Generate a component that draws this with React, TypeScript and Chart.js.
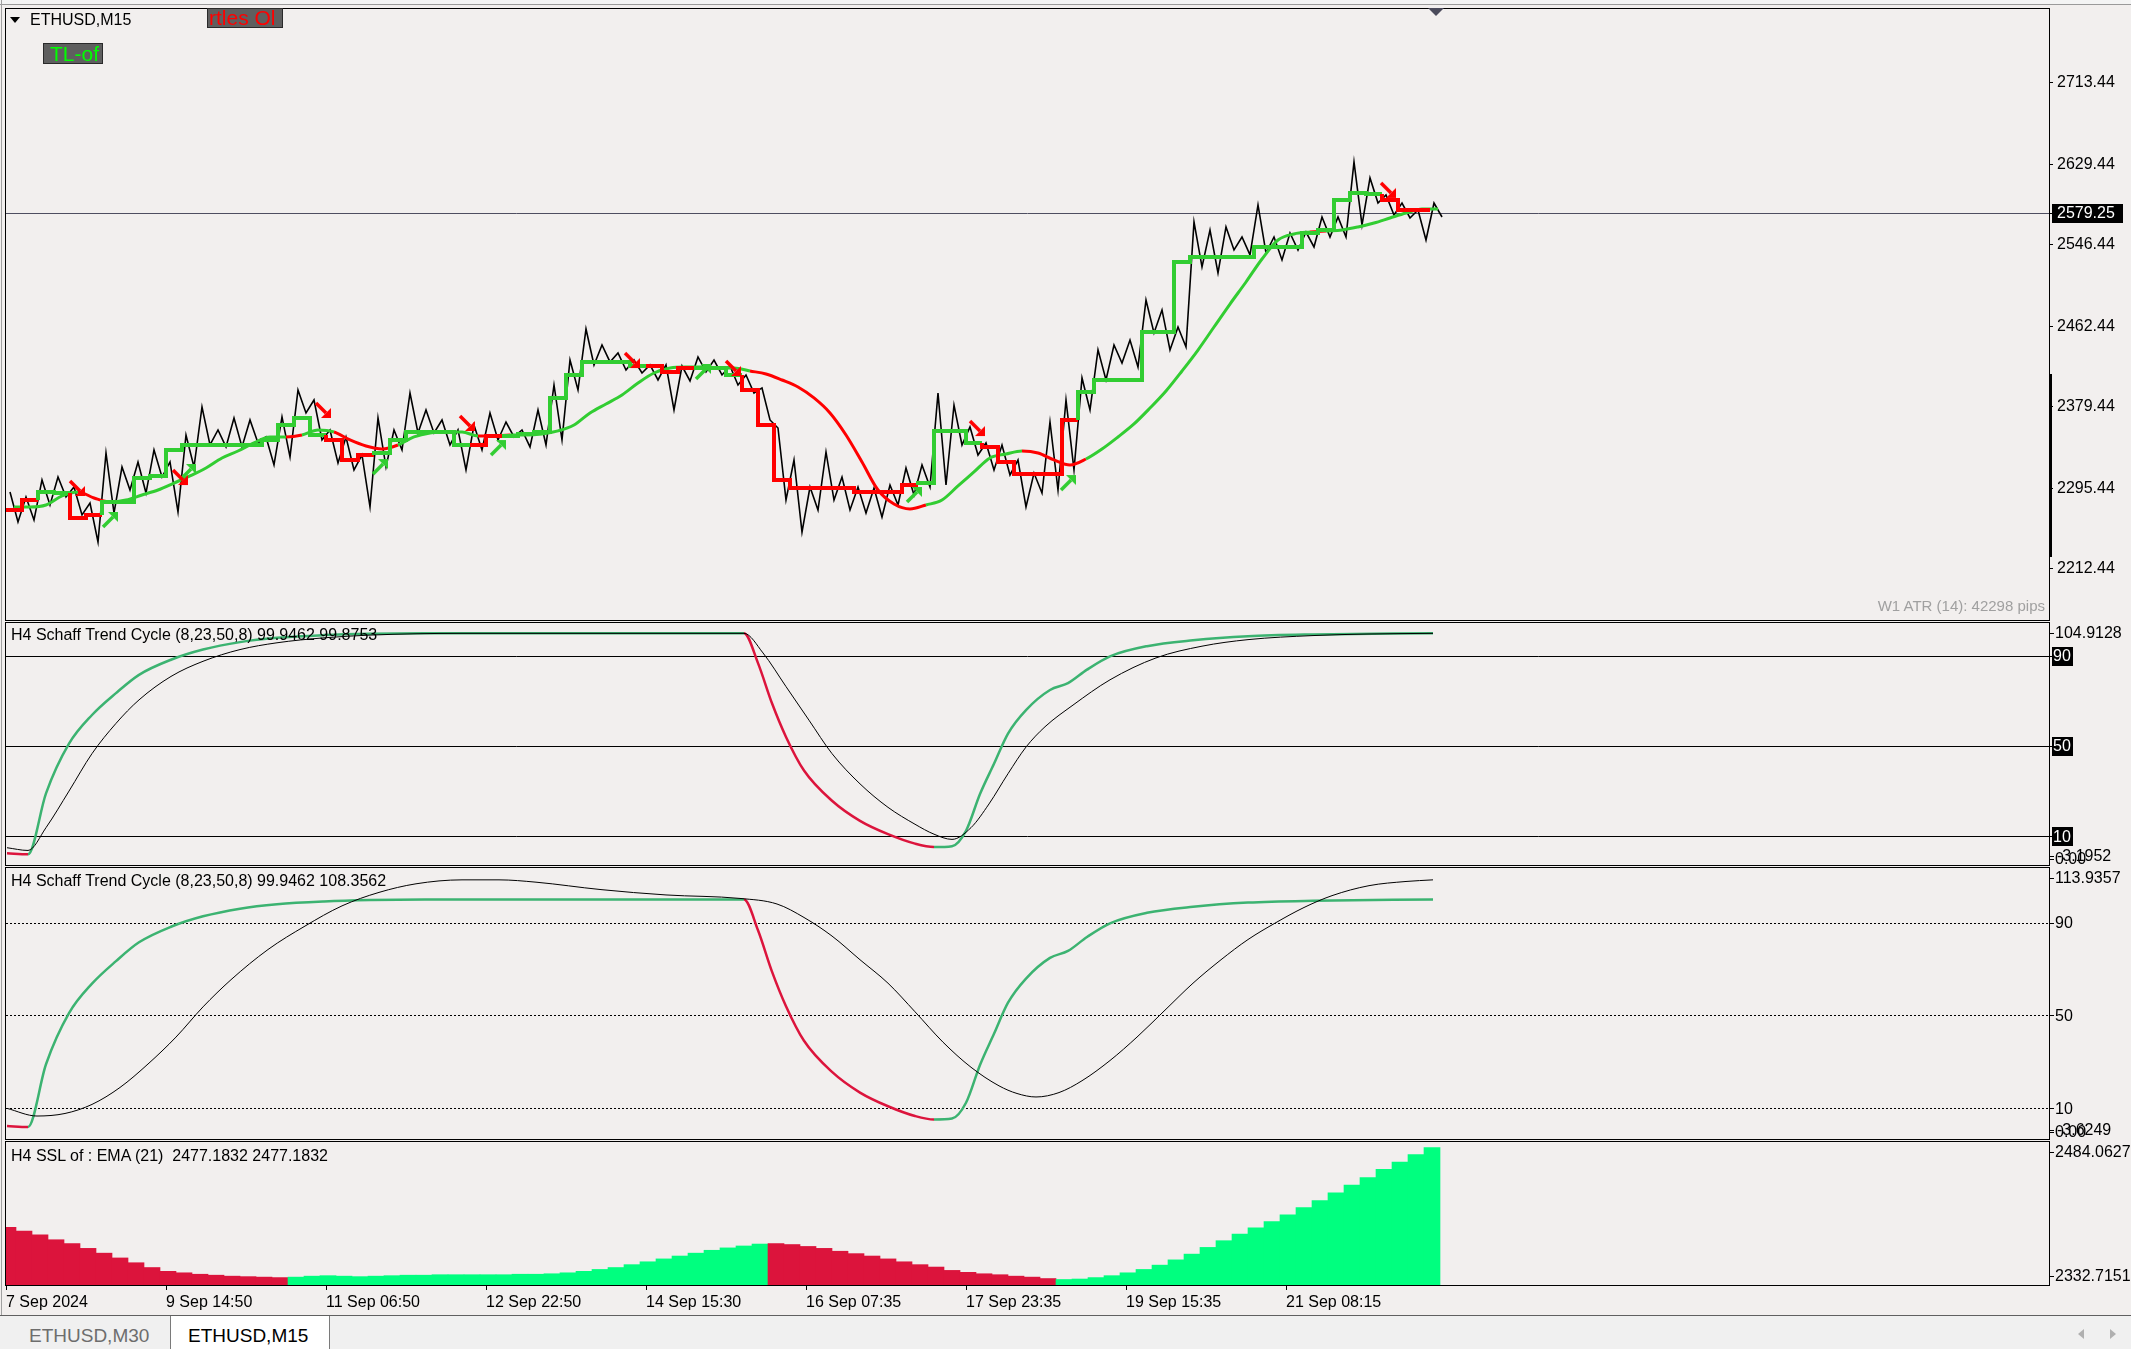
import React, { useEffect, useRef } from "react";
import { Chart, registerables } from "chart.js";

Chart.register(...registerables);

// ---------------- data ----------------
const BARS_PER_H4 = 16;
const PLOT_BARS = 2043;

const timeTickBars = [0, 160, 320, 480, 640, 800, 960, 1120, 1280];
const timeTickLabels = ["7 Sep 2024", "9 Sep 14:50", "11 Sep 06:50", "12 Sep 22:50", "14 Sep 15:30", "16 Sep 07:35", "17 Sep 23:35", "19 Sep 15:35", "21 Sep 08:15"];

const priceTicks = [2212.44, 2295.44, 2379.44, 2462.44, 2546.44, 2629.44, 2713.44];
const lastPrice = 2579.25;

// per H4 block: high / low of the M15 bars
const priceHigh = [
  2291.6, 2286.4, 2304.0, 2307.0, 2296.7, 2280.2, 2331.8, 2317.3, 2322.5, 2334.9,
  2322.5, 2350.3, 2379.2, 2355.5, 2367.9, 2365.8, 2348.3, 2368.9, 2396.7, 2386.4,
  2355.5, 2348.3, 2329.7, 2367.9, 2355.5, 2393.6, 2376.1, 2365.8, 2355.5, 2360.6,
  2373.0, 2363.7, 2355.5, 2376.1, 2401.9, 2427.6, 2459.6, 2443.1, 2434.8, 2427.6,
  2422.5, 2422.5, 2421.4, 2430.7, 2427.6, 2421.4, 2412.2, 2398.8, 2357.5, 2324.5,
  2296.7, 2332.8, 2307.0, 2296.7, 2295.7, 2298.8, 2316.3, 2319.4, 2393.6, 2381.2,
  2358.6, 2342.1, 2340.0, 2324.5, 2311.1, 2363.7, 2386.4, 2409.1, 2438.0, 2443.1,
  2448.2, 2489.5, 2479.2, 2461.6, 2569.9, 2561.6, 2564.7, 2554.4, 2587.4, 2554.4,
  2558.5, 2559.5, 2575.0, 2575.0, 2631.7, 2615.2, 2597.7, 2589.4, 2582.2, 2589.4,
];
const priceLow = [
  2260.7, 2262.7, 2278.2, 2286.4, 2267.9, 2240.0, 2269.9, 2293.6, 2290.5, 2307.0,
  2271.0, 2317.3, 2340.0, 2338.0, 2338.0, 2342.1, 2319.4, 2327.7, 2373.0, 2345.2,
  2321.5, 2314.3, 2276.1, 2317.3, 2334.9, 2352.4, 2352.4, 2340.0, 2314.3, 2334.9,
  2345.2, 2348.3, 2338.0, 2340.0, 2345.2, 2396.7, 2422.5, 2425.6, 2417.3, 2414.2,
  2407.0, 2376.1, 2406.0, 2415.3, 2412.2, 2401.9, 2393.6, 2365.8, 2283.3, 2250.3,
  2273.0, 2283.3, 2273.0, 2269.9, 2265.8, 2278.2, 2288.5, 2296.7, 2298.8, 2340.0,
  2329.7, 2314.3, 2309.1, 2276.1, 2290.5, 2293.6, 2314.3, 2376.1, 2407.0, 2424.5,
  2420.4, 2455.5, 2438.0, 2441.0, 2523.5, 2517.3, 2541.0, 2535.9, 2537.9, 2530.7,
  2541.0, 2544.1, 2554.4, 2554.4, 2566.8, 2589.4, 2577.1, 2574.0, 2551.3, 2575.0,
];

// stepped trailing line (per H4)
const stepTrail = [
  2273.0, 2273.0, 2283.3, 2291.6, 2290.5, 2264.8, 2267.9, 2281.3, 2281.3, 2306.0,
  2308.1, 2334.9, 2340.0, 2340.0, 2340.0, 2340.0, 2340.0, 2345.2, 2360.6, 2367.9,
  2350.3, 2345.2, 2324.6, 2329.7, 2331.8, 2345.2, 2353.4, 2353.4, 2353.4, 2340.0,
  2340.0, 2349.3, 2349.3, 2351.4, 2353.4, 2388.5, 2412.2, 2425.6, 2425.6, 2425.6,
  2421.4, 2421.4, 2415.3, 2419.4, 2419.4, 2419.4, 2412.2, 2396.7, 2360.6, 2303.9,
  2295.7, 2295.7, 2295.7, 2295.7, 2291.6, 2291.6, 2291.6, 2298.8, 2300.9, 2354.5,
  2354.5, 2342.1, 2338.0, 2322.5, 2310.1, 2310.1, 2310.1, 2365.8, 2394.7, 2407.0,
  2407.0, 2407.0, 2456.5, 2456.5, 2528.6, 2533.8, 2533.8, 2533.8, 2533.8, 2544.1,
  2544.1, 2544.1, 2558.5, 2561.6, 2592.5, 2599.8, 2598.7, 2592.5, 2582.2, 2582.2,
];
const stepTrailTrend = "rrggrrgggg gggggggggg rrrggggggr rggggggggg rrrgggrrrr rrrrrrrggg grrrrrrggg gggggggggg ggggggrrrr";

// smooth trailing line (per H4)
const smoothTrail = [
  2276.1, 2276.1, 2278.2, 2287.5, 2291.6, 2285.4, 2281.3, 2283.3, 2288.5, 2293.6,
  2300.8, 2308.1, 2316.3, 2326.6, 2333.8, 2342.1, 2348.3, 2348.3, 2350.3, 2355.5,
  2353.4, 2345.2, 2339.0, 2335.9, 2340.0, 2348.3, 2352.4, 2353.4, 2353.4, 2349.3,
  2349.3, 2350.3, 2350.3, 2351.4, 2354.5, 2360.6, 2373.0, 2382.3, 2391.6, 2403.9,
  2414.2, 2419.4, 2420.4, 2420.4, 2419.4, 2419.4, 2416.3, 2413.2, 2407.0, 2399.8,
  2388.5, 2373.0, 2350.3, 2322.5, 2293.6, 2279.2, 2274.1, 2278.2, 2283.3, 2297.8,
  2312.2, 2326.6, 2330.7, 2333.8, 2331.8, 2324.6, 2319.4, 2325.6, 2335.9, 2348.3,
  2361.7, 2378.1, 2395.7, 2416.3, 2437.9, 2461.6, 2485.3, 2508.0, 2531.7, 2551.3,
  2557.5, 2559.5, 2560.6, 2561.6, 2564.7, 2568.8, 2574.0, 2579.1, 2583.3, 2583.3,
];
const smoothTrailTrend = "ggggrrgggg gggggggrgg rrrrgggggr rggggggggg ggggggrrrr rrrrrrrggg gggrrrrggg gggggggggg grgggggggg";

const sellArrowBars = [71, 174, 317, 461, 626, 727, 971, 1382];
const sellArrowPrices = [2295.7, 2307.0, 2376.1, 2362.7, 2427.6, 2419.4, 2357.5, 2602.9];
const buyArrowBars = [104, 182, 374, 492, 697, 908, 1062];
const buyArrowPrices = [2262.7, 2312.2, 2317.3, 2336.9, 2415.3, 2288.5, 2300.8];

// Schaff Trend Cycle (shared by both sub-windows)
const stcBars = [1, 22, 40, 63, 86, 110, 133, 165, 197, 234, 271, 318, 364, 419, 738, 752, 766, 780, 798, 826, 854, 882, 909, 928, 946, 960, 974, 988, 1002, 1020, 1044, 1062, 1081, 1104, 1141, 1187, 1242, 1307, 1427];
const stcValues = [2.4, 2.0, 29, 51, 63.7, 73.4, 81.5, 88.2, 92.7, 96, 97.9, 99.1, 99.7, 99.95, 99.95, 86.7, 68.9, 54, 39.1, 25.7, 16.8, 10.9, 6.7, 5.2, 5.6, 12.4, 28.7, 42.1, 55.5, 65.9, 74.8, 77.8, 83.8, 89.7, 94.2, 96.8, 98.6, 99.4, 99.95];
const stcTrend = "rr ggggggggggggg rrrrrrrrr ggggggggggggggg";

const stcSignalBars = [1, 22, 40, 63, 86, 110, 133, 165, 197, 234, 271, 318, 364, 410, 456, 738, 757, 780, 803, 826, 854, 882, 909, 928, 946, 965, 983, 1002, 1020, 1039, 1067, 1104, 1150, 1196, 1242, 1307, 1363, 1427];
const stcSignalValues = [4.9, 3.7, 13.8, 30, 46.6, 60, 70.4, 80.8, 87.5, 92.7, 95.7, 97.9, 99.1, 99.7, 99.88, 99.88, 91.2, 76.3, 61.4, 46.6, 33.2, 22.8, 15.3, 10.9, 8.6, 13.8, 24.3, 37.7, 49.5, 58.5, 68.1, 79.3, 89, 94.2, 97.1, 98.9, 99.6, 99.88];

const stcSlowBars = [1, 31, 59, 86, 114, 142, 170, 197, 225, 262, 299, 336, 373, 410, 456, 493, 530, 595, 660, 734, 771, 798, 826, 854, 882, 909, 937, 965, 993, 1011, 1030, 1053, 1076, 1104, 1131, 1159, 1187, 1215, 1242, 1270, 1298, 1326, 1363, 1400, 1427];
const stcSlowValues = [10, 6.7, 7.8, 11.7, 19, 29.1, 40.7, 53.7, 65.4, 78.4, 88.5, 97.2, 103, 106.7, 108.4, 108.4, 107.4, 104.2, 101.9, 100.4, 98, 92.2, 84.2, 74, 63.9, 51.6, 38.5, 27.7, 19.7, 16.4, 14.9, 16.8, 21.9, 30.6, 40.7, 52.3, 63.9, 74, 82.7, 90, 96.5, 101.6, 105.9, 107.7, 108.4];

// H4 SSL of EMA(21) histogram (per H4)
const sslValues = [
  2394, 2390, 2386, 2381, 2377, 2372, 2367, 2362, 2357, 2352,
  2348, 2346.5, 2345, 2344, 2343, 2342.5, 2342, 2341.5, 2342, 2343,
  2343.5, 2343, 2342.5, 2343, 2343.5, 2344, 2344, 2344.5, 2344.5, 2344.5,
  2344.5, 2344.5, 2345, 2345, 2345.5, 2346.5, 2348, 2350, 2352, 2355,
  2358, 2361, 2364, 2367, 2370, 2372.5, 2374.5, 2376.5, 2377, 2376,
  2374, 2372, 2369, 2366.5, 2364, 2361, 2358, 2355, 2352.5, 2349,
  2347, 2345.5, 2344.5, 2343, 2342, 2340.5, 2339.5, 2340, 2341.5, 2343.5,
  2346.5, 2350, 2354.5, 2360, 2366, 2373, 2380, 2387, 2393.5, 2400,
  2407, 2414.5, 2422, 2430, 2438, 2446, 2454.5, 2462, 2470, 2477.2,
];
const sslTrend = "rrrrrrrrrr rrrrrrrrgg gggggggggg gggggggggg ggggggggrr rrrrrrrrrr rrrrrrgggg gggggggggg gggggggggg";

const mainRange = { min: 2158.6, max: 2790.4 };
const stcRange1 = { min: -3.1952, max: 104.9128 };
const stcRange2 = { min: -3.6249, max: 113.9357 };
const sslRange = { min: 2332.7151, max: 2484.0627 };

// ---------------- styling ----------------
const BG = "#f2efee";
const FAM = '"Liberation Sans", Arial, sans-serif';
const FONT = "16px " + FAM;
const GREEN = "#32cd32";
const RED = "#ff0000";
const STC_GREEN = "#3cb371";
const STC_RED = "#dc143c";
const SSL_GREEN = "#00ff7f";
const SSL_RED = "#dc143c";

const flags = (s: string) => s.replace(/\s/g, "").split("");

type PanelLabel = { text: string; value?: number; at?: "top" | "bottom"; box?: number; tx?: number };
type PanelCfg = { levels?: number[]; dash?: number[]; labels?: PanelLabel[]; priceLine?: number };

function panelPlugin(cfg: PanelCfg) {
  return {
    id: "mtPanel",
    beforeDatasetsDraw(chart: any) {
      const { ctx, chartArea: a } = chart;
      const ys = chart.scales.y;
      ctx.save();
      ctx.lineWidth = 1;
      (cfg.levels || []).forEach((v) => {
        const py = Math.round(ys.getPixelForValue(v)) + 0.5;
        ctx.strokeStyle = "#000";
        ctx.setLineDash(cfg.dash || []);
        ctx.beginPath();
        ctx.moveTo(a.left, py);
        ctx.lineTo(a.right, py);
        ctx.stroke();
      });
      if (cfg.priceLine !== undefined) {
        const py = Math.round(ys.getPixelForValue(cfg.priceLine)) + 0.5;
        ctx.setLineDash([]);
        ctx.strokeStyle = "#4e4e60";
        ctx.beginPath();
        ctx.moveTo(a.left, py);
        ctx.lineTo(a.right, py);
        ctx.stroke();
      }
      ctx.restore();
    },
    afterDraw(chart: any) {
      const { ctx, chartArea: a } = chart;
      const ys = chart.scales.y;
      ctx.save();
      ctx.setLineDash([]);
      ctx.strokeStyle = "#000";
      ctx.lineWidth = 1;
      ctx.strokeRect(a.left - 0.5, a.top + 0.5, a.right - a.left + 1, a.bottom - a.top - 1);
      ctx.font = FONT;
      ctx.textBaseline = "middle";
      ctx.textAlign = "left";
      (cfg.labels || []).forEach((l) => {
        const py = l.at === "top" ? a.top + 11 : l.at === "bottom" ? a.bottom - 10 : ys.getPixelForValue(l.value);
        const ry = Math.round(py) + 0.5;
        ctx.strokeStyle = "#000";
        ctx.beginPath();
        ctx.moveTo(a.right + 1, ry);
        ctx.lineTo(a.right + 5, ry);
        ctx.stroke();
        if (l.box) {
          ctx.fillStyle = "#000";
          ctx.fillRect(a.right + 3, Math.round(py) - 9, l.box, 19);
          ctx.fillStyle = "#fff";
        } else {
          ctx.fillStyle = "#000";
        }
        ctx.fillText(l.text, a.right + (l.tx ?? 6), py + 1);
      });
      ctx.restore();
    },
  };
}

function arrowImage(color: string, down: boolean) {
  const c = document.createElement("canvas");
  c.width = 18;
  c.height = 18;
  const g = c.getContext("2d")!;
  g.strokeStyle = color;
  g.fillStyle = color;
  g.lineWidth = 3.5;
  g.beginPath();
  if (down) {
    g.moveTo(2, 2);
    g.lineTo(12, 12);
  } else {
    g.moveTo(2, 16);
    g.lineTo(12, 6);
  }
  g.stroke();
  g.beginPath();
  if (down) {
    g.moveTo(17, 17);
    g.lineTo(17, 7);
    g.lineTo(7, 17);
  } else {
    g.moveTo(17, 1);
    g.lineTo(7, 1);
    g.lineTo(17, 11);
  }
  g.closePath();
  g.fill();
  return c;
}

const hiddenX = { type: "linear", min: 0, max: PLOT_BARS, display: false };

function baseOptions(range: { min: number; max: number }, yExtra: any = {}, x: any = hiddenX) {
  return {
    responsive: false,
    maintainAspectRatio: false,
    animation: false,
    devicePixelRatio: 1,
    events: [],
    layout: { autoPadding: false, padding: { left: 6, right: 0, top: 0, bottom: 0 } },
    plugins: { legend: { display: false }, tooltip: { enabled: false } },
    scales: {
      x,
      y: {
        position: "right",
        min: range.min,
        max: range.max,
        beginAtZero: false,
        afterFit: (s: any) => {
          s.width = 82;
          s.paddingTop = 0;
          s.paddingBottom = 0;
        },
        ticks: { display: false },
        grid: { display: false },
        border: { display: false },
        ...yExtra,
      },
    },
  };
}

export default function App() {
  const c1 = useRef<HTMLCanvasElement>(null);
  const c2 = useRef<HTMLCanvasElement>(null);
  const c3 = useRef<HTMLCanvasElement>(null);
  const c4 = useRef<HTMLCanvasElement>(null);

  useEffect(() => {
    Chart.defaults.font.family = FAM;
    const charts: any[] = [];
    const stepFlags = flags(stepTrailTrend);
    const smoothFlags = flags(smoothTrailTrend);
    const stcFlags = flags(stcTrend);
    const sslFlags = flags(sslTrend);

    const priceData = priceHigh.flatMap((h, k) => [
      { x: k * BARS_PER_H4 + 4, y: h },
      { x: k * BARS_PER_H4 + 12, y: priceLow[k] },
    ]);
    const stepData = stepTrail.map((v, k) => ({ x: k * BARS_PER_H4, y: v }));
    const smoothData = smoothTrail.map((v, k) => ({ x: k * BARS_PER_H4 + 8, y: v }));
    const sellData = sellArrowBars.map((b, i) => ({ x: b, y: sellArrowPrices[i] }));
    const buyData = buyArrowBars.map((b, i) => ({ x: b, y: buyArrowPrices[i] }));
    const stcData = stcBars.map((b, i) => ({ x: b, y: stcValues[i] }));
    const sigData = stcSignalBars.map((b, i) => ({ x: b, y: stcSignalValues[i] }));
    const slowData = stcSlowBars.map((b, i) => ({ x: b, y: stcSlowValues[i] }));
    const sslData = sslValues.map((v, k) => ({ x: k * BARS_PER_H4 + 2, y: v }));

    // ---- main price window ----
    charts.push(
      new Chart(c1.current!, {
        type: "line",
        data: {
          datasets: [
            { data: priceData, borderColor: "#000", borderWidth: 1.6, pointRadius: 0, order: 3 },
            {
              data: smoothData,
              borderColor: GREEN,
              borderWidth: 3,
              pointRadius: 0,
              cubicInterpolationMode: "monotone",
              segment: { borderColor: (c: any) => (smoothFlags[c.p0DataIndex] === "r" ? RED : GREEN) },
              order: 2,
            },
            {
              data: stepData,
              borderColor: GREEN,
              borderWidth: 4,
              pointRadius: 0,
              stepped: "after",
              segment: { borderColor: (c: any) => (stepFlags[c.p0DataIndex] === "r" ? RED : GREEN) },
              order: 1,
            },
            { data: sellData, showLine: false, pointRadius: 8, pointStyle: arrowImage(RED, true), order: 0 },
            { data: buyData, showLine: false, pointRadius: 8, pointStyle: arrowImage(GREEN, false), order: 0 },
          ],
        },
        options: baseOptions(mainRange, {
          afterBuildTicks: (s: any) => {
            s.ticks = priceTicks.map((v) => ({ value: v }));
          },
          ticks: {
            display: true,
            autoSkip: false,
            padding: 4,
            color: "#000",
            font: { family: FAM, size: 16 },
            callback: (v: any) => Number(v).toFixed(2),
          },
          grid: { display: true, drawOnChartArea: false, drawTicks: true, tickLength: 4, tickColor: "#000" },
        }) as any,
        plugins: [
          panelPlugin({
            priceLine: lastPrice,
            labels: [{ text: lastPrice.toFixed(2), value: lastPrice, box: 71, tx: 8 }],
          }),
        ],
      } as any)
    );

    const stcDataset = {
      data: stcData,
      borderColor: STC_GREEN,
      borderWidth: 2.5,
      pointRadius: 0,
      cubicInterpolationMode: "monotone",
      segment: { borderColor: (c: any) => (stcFlags[c.p1DataIndex] === "r" ? STC_RED : STC_GREEN) },
      order: 1,
    };

    // ---- STC window 1 ----
    charts.push(
      new Chart(c2.current!, {
        type: "line",
        data: {
          datasets: [
            { data: sigData, borderColor: "#000", borderWidth: 1, pointRadius: 0, cubicInterpolationMode: "monotone", order: 0 },
            stcDataset,
          ],
        },
        options: baseOptions(stcRange1) as any,
        plugins: [
          panelPlugin({
            levels: [90, 50, 10],
            labels: [
              { text: "104.9128", at: "top" },
              { text: "90", value: 90, box: 21, tx: 4 },
              { text: "50", value: 50, box: 21, tx: 4 },
              { text: "10", value: 10, box: 21, tx: 4 },
              { text: "0.00", value: 0 },
              { text: "-3.1952", at: "bottom", tx: 8 },
            ],
          }),
        ],
      } as any)
    );

    // ---- STC window 2 ----
    charts.push(
      new Chart(c3.current!, {
        type: "line",
        data: {
          datasets: [
            { data: slowData, borderColor: "#000", borderWidth: 1, pointRadius: 0, cubicInterpolationMode: "monotone", order: 0 },
            { ...stcDataset },
          ],
        },
        options: baseOptions(stcRange2) as any,
        plugins: [
          panelPlugin({
            levels: [90, 50, 10],
            dash: [2, 2],
            labels: [
              { text: "113.9357", at: "top" },
              { text: "90", value: 90 },
              { text: "50", value: 50 },
              { text: "10", value: 10 },
              { text: "0.00", value: 0 },
              { text: "-3.6249", at: "bottom", tx: 8 },
            ],
          }),
        ],
      } as any)
    );

    // ---- SSL histogram + time axis ----
    const timeAxis = {
      type: "linear",
      min: 0,
      max: PLOT_BARS,
      position: "bottom",
      offset: false,
      afterFit: (s: any) => {
        s.height = 29;
        s.paddingLeft = 0;
        s.paddingRight = 0;
      },
      afterBuildTicks: (s: any) => {
        s.ticks = timeTickBars.map((v) => ({ value: v }));
      },
      ticks: {
        display: true,
        autoSkip: false,
        maxRotation: 0,
        minRotation: 0,
        align: "start",
        padding: 3,
        color: "#000",
        font: { family: FAM, size: 16 },
        callback: (v: any) => timeTickLabels[timeTickBars.indexOf(Number(v))] ?? "",
      },
      grid: { display: true, offset: false, drawOnChartArea: false, drawTicks: true, tickLength: 4, tickColor: "#000" },
      border: { display: false },
    };

    charts.push(
      new Chart(c4.current!, {
        type: "bar",
        data: {
          datasets: [
            {
              data: sslData,
              backgroundColor: sslFlags.map((f) => (f === "r" ? SSL_RED : SSL_GREEN)),
              borderWidth: 0,
              barPercentage: 1,
              categoryPercentage: 1,
              base: sslRange.min,
            },
          ],
        },
        options: baseOptions(sslRange, {}, timeAxis) as any,
        plugins: [
          panelPlugin({
            labels: [
              { text: "2484.0627", at: "top" },
              { text: "2332.7151", at: "bottom" },
            ],
          }),
        ],
      } as any)
    );

    return () => charts.forEach((c) => c.destroy());
  }, []);

  const abs = (s: any) => ({ position: "absolute" as const, ...s });
  const txt = { fontFamily: FAM, fontSize: 16, lineHeight: "16px", color: "#000", whiteSpace: "pre" as const };

  return (
    <div style={{ position: "fixed", left: 0, top: 0, width: 2131, height: 1349, background: BG, overflow: "hidden", fontFamily: FAM }}>
      {/* window chrome */}
      <div style={abs({ left: 0, top: 0, width: 2131, height: 4, background: "#f4f4f4", borderBottom: "1px solid #9a9a9a" })} />
      <div style={abs({ left: 1, top: 0, width: 1, height: 1315, background: "#a0a0a0" })} />

      <canvas ref={c1} width={2131} height={613} style={abs({ left: 0, top: 8, width: 2131, height: 613 })} />
      <canvas ref={c2} width={2131} height={244} style={abs({ left: 0, top: 622, width: 2131, height: 244 })} />
      <canvas ref={c3} width={2131} height={273} style={abs({ left: 0, top: 867, width: 2131, height: 273 })} />
      <canvas ref={c4} width={2131} height={174} style={abs({ left: 0, top: 1141, width: 2131, height: 174 })} />

      {/* main window overlays */}
      <div style={abs({ left: 10, top: 17, width: 0, height: 0, borderLeft: "5px solid transparent", borderRight: "5px solid transparent", borderTop: "6px solid #000" })} />
      <div style={abs({ left: 30, top: 12, ...txt })}>ETHUSD,M15</div>
      <div style={abs({ left: 207, top: 8, width: 73, height: 18, background: "#5f5f5f", border: "1px solid #2a2a2a", color: "#ff0000", fontSize: 21, lineHeight: "18px", overflow: "hidden", whiteSpace: "nowrap", paddingLeft: 1, boxSizing: "content-box" })}>rtles Ol</div>
      <div style={abs({ left: 43, top: 43, width: 52, height: 19, background: "#5f5f5f", border: "1px solid #2a2a2a", color: "#00ff00", fontSize: 21, lineHeight: "19px", overflow: "hidden", whiteSpace: "nowrap", paddingLeft: 6 })}>TL-of</div>
      <div style={abs({ right: 2131 - 2045, top: 598, fontFamily: FAM, fontSize: 15, lineHeight: "15px", color: "#a0a0a0", whiteSpace: "pre" })}>W1 ATR (14): 42298 pips</div>
      <div style={abs({ left: 2049, top: 374, width: 3, height: 183, background: "#000" })} />
      <div style={abs({ left: 1428, top: 8, width: 0, height: 0, borderLeft: "8px solid transparent", borderRight: "8px solid transparent", borderTop: "8px solid #4b4b5b" })} />

      {/* sub-window titles */}
      <div style={abs({ left: 11, top: 627, ...txt })}>H4 Schaff Trend Cycle (8,23,50,8) 99.9462 99.8753</div>
      <div style={abs({ left: 11, top: 873, ...txt })}>H4 Schaff Trend Cycle (8,23,50,8) 99.9462 108.3562</div>
      <div style={abs({ left: 11, top: 1148, ...txt })}>H4 SSL of : EMA (21)  2477.1832 2477.1832</div>

      {/* tab bar */}
      <div style={abs({ left: 0, top: 1315, width: 2131, height: 34, background: "#f0f0f0", borderTop: "1px solid #606060" })} />
      <div style={abs({ left: 29, top: 1326, fontFamily: FAM, fontSize: 19, lineHeight: "19px", color: "#6d6d6d", whiteSpace: "pre" })}>ETHUSD,M30</div>
      <div style={abs({ left: 170, top: 1316, width: 158, height: 33, background: "#ffffff", borderLeft: "1px solid #7a7a7a", borderRight: "1px solid #7a7a7a" })} />
      <div style={abs({ left: 188, top: 1326, fontFamily: FAM, fontSize: 19, lineHeight: "19px", color: "#000", whiteSpace: "pre" })}>ETHUSD,M15</div>
      <div style={abs({ left: 2078, top: 1329, width: 0, height: 0, borderTop: "5px solid transparent", borderBottom: "5px solid transparent", borderRight: "6px solid #b0b0b0" })} />
      <div style={abs({ left: 2110, top: 1329, width: 0, height: 0, borderTop: "5px solid transparent", borderBottom: "5px solid transparent", borderLeft: "6px solid #b0b0b0" })} />
    </div>
  );
}
